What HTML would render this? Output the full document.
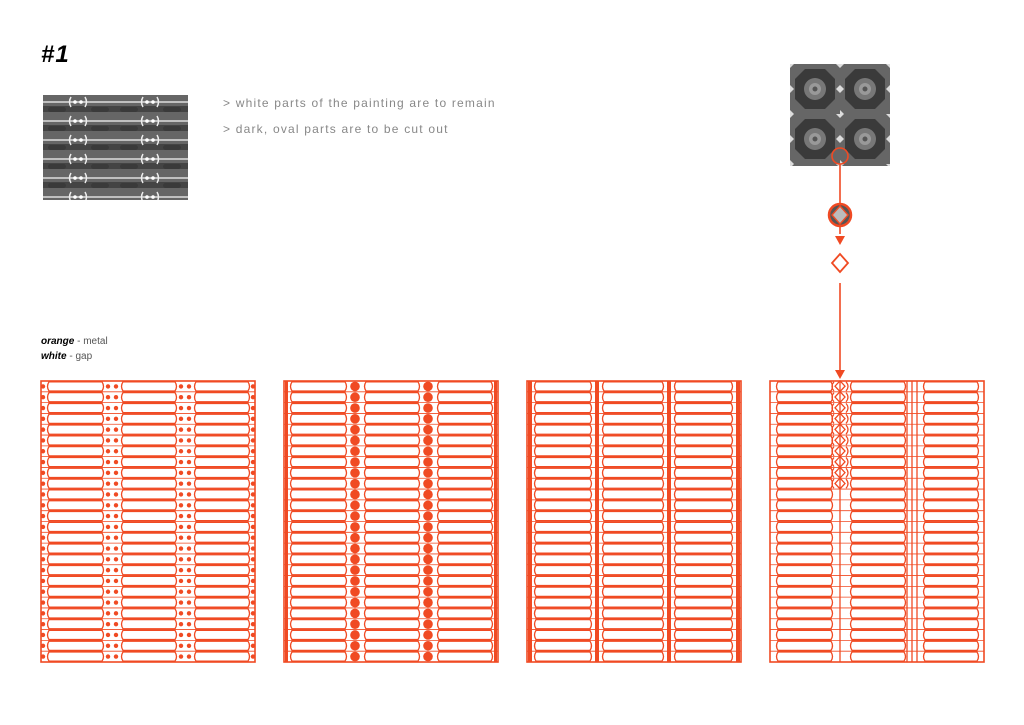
<!DOCTYPE html>
<html><head><meta charset="utf-8"><style>
html,body{margin:0;padding:0;background:#fff;width:1024px;height:725px;overflow:hidden;font-family:"Liberation Sans",sans-serif}
svg{position:absolute;left:0;top:0}
</style></head><body>
<svg id="s" width="1024" height="725" xmlns="http://www.w3.org/2000/svg">
<defs>
<pattern id="tex1" width="72" height="19" patternUnits="userSpaceOnUse" x="43" y="95">
<rect width="72" height="19" fill="#666"/>
<rect x="0" y="11" width="72" height="6" fill="#444"/>
<line x1="0" y1="7" x2="72" y2="7" stroke="#ddd" stroke-width="1.5"/>
<circle cx="32" cy="7" r="1.8" fill="#fff"/><circle cx="38" cy="7" r="1.8" fill="#fff"/>
<path d="M28 2 Q25 7 28 12 M42 2 Q45 7 42 12" stroke="#eee" stroke-width="1.5" fill="none"/>
<rect x="5" y="12" width="18" height="5" rx="2.5" fill="#3a3a3a"/><rect x="48" y="12" width="18" height="5" rx="2.5" fill="#3a3a3a"/>
</pattern>
<pattern id="tex2" width="50" height="50" patternUnits="userSpaceOnUse" x="790" y="64">
<rect width="50" height="50" fill="#666"/>
<polygon points="15,8 35,8 45,18 45,38 35,48 15,48 5,38 5,18" fill="#3a3a3a" transform="translate(0,-3)"/>
<circle cx="25" cy="25" r="11" fill="#777"/><circle cx="25" cy="25" r="6" fill="#999"/><circle cx="25" cy="25" r="2.5" fill="#555"/>
<path d="M0 -4 l4 4 -4 4 -4 -4z M50 -4 l4 4 -4 4 -4 -4z M0 46 l4 4 -4 4 -4 -4z" fill="#ddd"/>
<path d="M0 21 l4 4 -4 4 -4 -4z M50 21 l4 4 -4 4 -4 -4z" fill="#ddd"/>
</pattern>
</defs>
<text x="41" y="62" font-size="24" font-weight="bold" font-style="italic" fill="#000" letter-spacing="1" font-family="Liberation Sans">#1</text>
<rect x="43" y="95" width="145" height="105" fill="url(#tex1)"/>
<text x="223" y="107" font-size="12" fill="#888" letter-spacing="1.2">&gt; white parts of the painting are to remain</text>
<text x="223" y="133" font-size="12" fill="#888" letter-spacing="1.2">&gt; dark, oval parts are to be cut out</text>
<rect x="790" y="64" width="100" height="102" fill="url(#tex2)"/>
<text x="41" y="344" font-size="10" fill="#000"><tspan font-weight="bold" font-style="italic">orange</tspan><tspan fill="#555"> - metal</tspan></text>
<text x="41" y="359" font-size="10" fill="#000"><tspan font-weight="bold" font-style="italic">white</tspan><tspan fill="#555"> - gap</tspan></text>
<g stroke="#f04a23" fill="none" stroke-width="1.6">
<circle cx="840" cy="156" r="8"/>
<line x1="840" y1="164" x2="840" y2="234"/>
<circle cx="840" cy="215" r="11" fill="#555" stroke-width="2.5"/>
<path d="M840 206 l8 9 -8 9 -8 -9z" fill="#bbb" stroke-width="1.4"/>
<path d="M840 254 l8 9 -8 9 -8 -9z" fill="#fff" stroke-width="1.8"/>
<line x1="840" y1="283" x2="840" y2="370"/>
</g>
<path d="M835 236 h10 l-5 9z M835 370 h10 l-5 9z" fill="#f04a23"/>
<g id="panels"></g>
</svg>
<script>
var O="#f04a23",g=document.getElementById("panels"),h="";
var X=[41,284,527,770],Y0=381,Y1=662,n=26,p=(Y1-Y0)/n;
X.forEach(function(x0,k){
 var W=214;
 var cols=[[x0+8,x0+61],[x0+82,x0+134],[x0+155,x0+207]];
 if(k==2)cols=[[x0+9,x0+63],[x0+77,x0+135],[x0+149,x0+204]];
 for(var i=0;i<n;i++){
  var yt=Y0+i*p+0.8,yb=Y0+(i+1)*p-0.8,ym=(yt+yb)/2;
  cols.forEach(function(c){
   var a=c[0],b=c[1];
   h+='<path d="M'+a+' '+yt+' H'+b+' Q'+(b+3)+' '+ym+' '+b+' '+yb+' H'+a+' Q'+(a-3)+' '+ym+' '+a+' '+yt+'Z" fill="#fff" stroke="'+O+'" stroke-width="1.3"/>';
  });
  if(k==0){
   [x0+2,x0+67,x0+75,x0+140,x0+148,x0+212].forEach(function(cx){h+='<circle cx="'+cx+'" cy="'+ym+'" r="2.2" fill="'+O+'"/>';});
  }
  if(k==1){
   [x0+71,x0+144].forEach(function(cx){h+='<circle cx="'+cx+'" cy="'+ym+'" r="4.8" fill="'+O+'"/>';});
  }
  if(k==3&&i<10){
   h+='<path d="M'+(x0+70)+' '+(yt-1)+' l5 '+(p/2)+' -5 '+(p/2)+' -5 -'+(p/2)+'z" fill="none" stroke="'+O+'" stroke-width="1.3"/>';
   h+='<path d="M'+(x0+64)+' '+yt+' Q'+(x0+60)+' '+ym+' '+(x0+64)+' '+yb+' M'+(x0+76)+' '+yt+' Q'+(x0+80)+' '+ym+' '+(x0+76)+' '+yb+'" fill="none" stroke="'+O+'" stroke-width="1.2"/>';
  }
  h+='<line x1="'+x0+'" y1="'+(Y0+(i+1)*p)+'" x2="'+(x0+W)+'" y2="'+(Y0+(i+1)*p)+'" stroke="'+O+'" stroke-width="0.8"/>';
 }
 h+='<rect x="'+x0+'" y="'+Y0+'" width="'+W+'" height="'+(Y1-Y0)+'" fill="none" stroke="'+O+'" stroke-width="1.6"/>';
 if(k==1){h+='<rect x="'+(x0+1)+'" y="'+Y0+'" width="3" height="'+(Y1-Y0)+'" fill="'+O+'"/><rect x="'+(x0+W-4)+'" y="'+Y0+'" width="3" height="'+(Y1-Y0)+'" fill="'+O+'"/>';}
 if(k==2){[x0+1,x0+68,x0+140,x0+209].forEach(function(bx){h+='<rect x="'+bx+'" y="'+Y0+'" width="4" height="'+(Y1-Y0)+'" fill="'+O+'"/>';});}
 if(k==3){[x0+70,x0+137,x0+142,x0+147].forEach(function(lx){h+='<line x1="'+lx+'" y1="'+Y0+'" x2="'+lx+'" y2="'+Y1+'" stroke="'+O+'" stroke-width="1.3"/>';});}
});
g.innerHTML=h;
</script>
</body></html>
